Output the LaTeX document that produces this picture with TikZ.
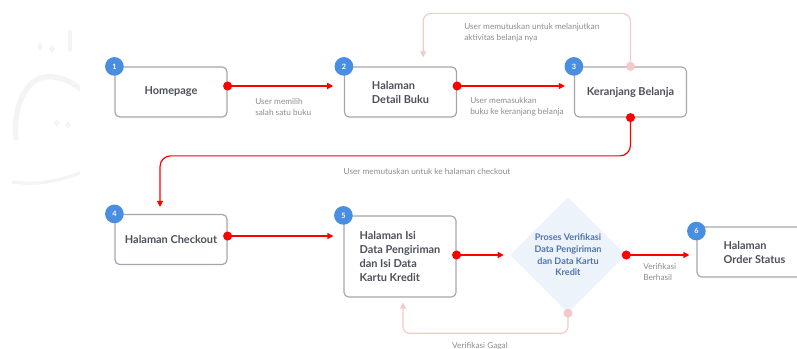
\documentclass[tikz,border=0pt]{standalone}
\usepackage{fontspec}
\setmainfont{Lato}
\usetikzlibrary{arrows.meta,shapes.geometric,calc}
\definecolor{boxgray}{HTML}{A3A7AD}
\definecolor{txt}{HTML}{4B505A}
\definecolor{lbl}{HTML}{8C8C8C}
\definecolor{cblue}{HTML}{4A8EE2}
\definecolor{pinkl}{HTML}{F4C9C9}
\definecolor{dfill}{HTML}{EDF3FB}
\definecolor{dtxt}{HTML}{4F73A9}
\definecolor{wm}{HTML}{F4F4F4}
\begin{document}
\begin{tikzpicture}[x=0.75pt,y=-0.75pt,
  box/.style={draw=boxgray, line width=0.9pt, rounded corners=3.5pt, fill=white,
    minimum width=84pt, minimum height=37.5pt, inner sep=0pt,
    font=\fontsize{8.2}{10.5}\selectfont\bfseries, text=txt, align=left},
  num/.style={circle, fill=cblue, minimum size=14pt, inner sep=0pt, text=white,
    font=\fontsize{5.5}{6}\selectfont\bfseries},
  lab/.style={anchor=west, inner sep=0pt, align=left, text=lbl,
    font=\fontsize{6.2}{8.25}\selectfont},
  rl/.style={draw=red, line width=0.9pt, -{Triangle[length=4.5pt,width=4.5pt]}},
  pl/.style={draw=pinkl, line width=0.9pt, -{Triangle[length=4.5pt,width=4.5pt]}},
  rdot/.style={circle, fill=red, minimum size=6.8pt, inner sep=0pt},
  pdot/.style={circle, fill=pinkl, minimum size=6.8pt, inner sep=0pt},
  dia/.style={diamond, fill=dfill, minimum width=87pt, minimum height=87pt, inner sep=0pt},
  dtext/.style={align=center, text=dtxt, inner sep=0pt,
    font=\fontsize{6.8}{8.8}\selectfont\bfseries}
]
\useasboundingbox (0,0) rectangle (797,349);

% faint watermark
\begin{scope}
\clip (0,0) rectangle (80,195);
\fill[wm] (40,43) -- (43,47) -- (40,51) -- (37,47) -- cycle;
\fill[wm] (52,45) -- (55,49) -- (52,53) -- (49,49) -- cycle;
\fill[wm] (57,119) -- (60,123) -- (57,127) -- (54,123) -- cycle;
\fill[wm] (68,121) -- (71,125) -- (68,129) -- (65,125) -- cycle;
\draw[wm, line width=4pt, line cap=round] (16,138) .. controls (13,105) and (26,84) .. (40,78);
\draw[wm, line width=4pt, line cap=round] (40,78) .. controls (55,74) and (70,80) .. (82,90);
\draw[wm, line width=3pt, line cap=round] (70,32) -- (70,50);
\draw[wm, line width=2.5pt, line cap=round] (13,182) .. controls (40,186) and (62,180) .. (82,172);
\end{scope}

% boxes
\node[box, align=center] (b1) at (171,92) {Homepage};
\node[box] (b2) at (400.5,92) {Halaman\\Detail Buku};
\node[box, align=center] (b3) at (630.5,92) {Keranjang Belanja};
\node[box, align=center] (b4) at (171,239.5) {Halaman Checkout};
\node[box, minimum height=60.75pt] (b5) at (400,256.5) {Halaman Isi\\Data Pengiriman\\dan Isi Data\\Kartu Kredit};
\node[box, minimum width=86.25pt] (b6) at (754.5,252) {Halaman\\Order Status};
\node[dia] (dm) at (568,255) {};
\node[dtext] (dmt) at (dm.center) {Proses Verifikasi\\Data Pengiriman\\dan Data Kartu\\Kredit};

% numbers
\node[num] (n1) at (b1.north west) {1};
\node[num] (n2) at (b2.north west) {2};
\node[num] (n3) at (b3.north west) {3};
\node[num] (n4) at (b4.north west) {4};
\node[num] (n5) at (b5.north west) {5};
\node[num] (n6) at ([yshift=-3.5pt]b6.north west) {6};

% connector 1 -> 2
\coordinate (s1) at ([yshift=4.5pt]b1.east);
\draw[rl] (s1) -- ([xshift=-8pt]s1 -| b2.west);
\node[rdot] (d1) at (s1) {};
% connector 2 -> 3
\coordinate (s2) at ([yshift=4.5pt]b2.east);
\draw[rl] (s2) -- ([xshift=-6.75pt]s2 -| b3.west);
\node[rdot] (d2) at (s2) {};
% pink loop 3 -> 2
\draw[pl, rounded corners=6pt] (b3.north) |- ([xshift=17pt,yshift=39.75pt]b2.north) -- ([xshift=17pt,yshift=6.75pt]b2.north);
\node[pdot] (d3a) at (b3.north) {};
% connector 3 -> 4
\coordinate (t4) at ([xshift=-8.25pt]b4.north);
\draw[rl, rounded corners=8pt] (b3.south) |- ([yshift=43.5pt]t4) -- ([yshift=5.25pt]t4);
\node[rdot] (d3b) at (b3.south) {};
% connector 4 -> 5
\coordinate (s4) at ([yshift=2.6pt]b4.east);
\draw[rl] (s4) -- ([xshift=-7.5pt]s4 -| b5.west);
\node[rdot] (d4) at (s4) {};
% connector 5 -> diamond
\coordinate (s5) at (b5.east |- dm.center);
\draw[rl] (s5) -- ([xshift=-4.5pt]dm.west);
\node[rdot] (d5) at (s5) {};
% connector diamond -> 6
\draw[rl] (dm.east) -- ([xshift=-5.25pt]dm.east -| b6.west);
\node[rdot] (d6) at (dm.east) {};
% pink fail loop diamond -> 5
\coordinate (t5) at ([xshift=2.25pt]b5.south);
\draw[pl, rounded corners=5pt] (dm.south) -- ([yshift=-15pt]dm.south) -| ([yshift=-3.75pt]t5);
\node[pdot] (d7) at (dm.south) {};

% labels
\node[lab] (l1) at (255,106.5) {User memilih\\salah satu buku};
\node[lab] (l2) at (470,107) {User memasukkan\\buku ke keranjang belanja};
\node[lab] (l3) at (464,33) {User memutuskan untuk melanjutkan\\aktivitas belanja nya};
\node[lab, anchor=center] (l4) at (427,171) {User memutuskan untuk ke halaman checkout};
\node[lab] (l5) at (643,271.5) {Verifikasi\\Berhasil};
\node[lab, anchor=center] (l6) at (480,346) {Verifikasi Gagal};
\end{tikzpicture}
\end{document}
